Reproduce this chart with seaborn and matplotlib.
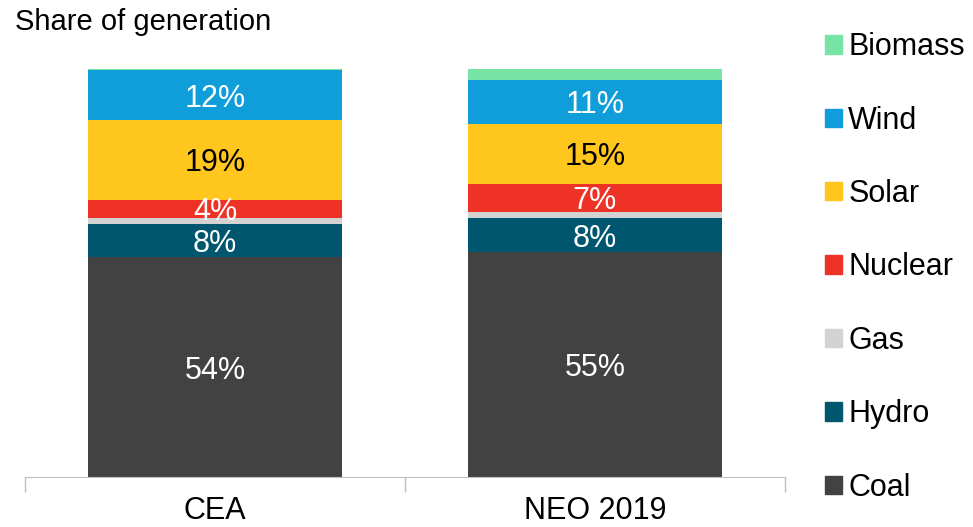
import numpy as np
import pandas as pd
import matplotlib
matplotlib.use("Agg")
import matplotlib.pyplot as plt
from matplotlib.patches import Patch
import seaborn as sns

# Données (part de la production, %)
sources = ["Coal", "Hydro", "Gas", "Nuclear", "Solar", "Wind", "Biomass"]
scenarios = ["CEA", "NEO 2019"]
cea = [53.8, 8.3, 1.5, 4.4, 19.4, 12.4, 0.2]
neo = [55.1, 8.3, 1.6, 6.8, 14.8, 10.8, 2.6]
colors = ["#424242", "#00566F", "#D3D3D3", "#EF3226", "#FFC61E", "#109EDA", "#77E4A5"]
label_colors = ["white", "white", None, "white", "black", "white", None]

df = pd.DataFrame({"scenario": scenarios})
for s, a, b in zip(sources, cea, neo):
    df[s] = [a, b]

sns.set_style("white")
plt.rcParams["font.family"] = ["Liberation Sans", "DejaVu Sans"]
plt.rcParams["text.color"] = "black"
plt.rcParams["xtick.labelcolor"] = "black"

fig = plt.figure(figsize=(9.73, 5.27), dpi=100)
ax = fig.add_axes([25 / 973, 1 - 477 / 527, 760 / 973, 408 / 527])

bottom = np.zeros(len(scenarios))
for s, c, lc in zip(sources, colors, label_colors):
    sns.barplot(data=df, x="scenario", y=s, color=c, width=0.67, bottom=bottom,
                saturation=1, ax=ax, linewidth=0)
    if lc is not None:
        labels = [f"{v:.0f}%" for v in df[s]]
        txts = ax.bar_label(ax.containers[-1], labels=labels, label_type="center",
                            color=lc, fontsize=22)
        for t in txts:
            t.set_va("center_baseline")
    bottom = bottom + df[s].values

ax.set_ylim(0, 100)
ax.set_xlim(-0.5, 1.5)
ax.set_xlabel("")
ax.set_ylabel("")
ax.set_yticks([])
sns.despine(ax=ax, left=True)
ax.spines["bottom"].set_color("#BFBFBF")
ax.set_xticks([-0.5, 0.5, 1.5], minor=True)
ax.tick_params(axis="x", which="minor", bottom=True, length=11, color="#BFBFBF", width=1)
ax.tick_params(axis="x", which="major", bottom=True, length=0, labelsize=22, pad=14,
               labelcolor="black")

fig.text(15 / 973, 1 - 30 / 527, "Share of generation", fontsize=21, va="baseline")

handles = [Patch(color=c, label=s) for s, c in zip(sources, colors)][::-1]
fig.legend(handles=handles, loc="upper left", bbox_to_anchor=(813 / 973, 1 - 20 / 527),
           frameon=False, fontsize=22, handlelength=0.55, handleheight=0.55,
           handletextpad=0.2, labelspacing=1.42, borderaxespad=0)

fig.savefig("out.png", dpi=100)
